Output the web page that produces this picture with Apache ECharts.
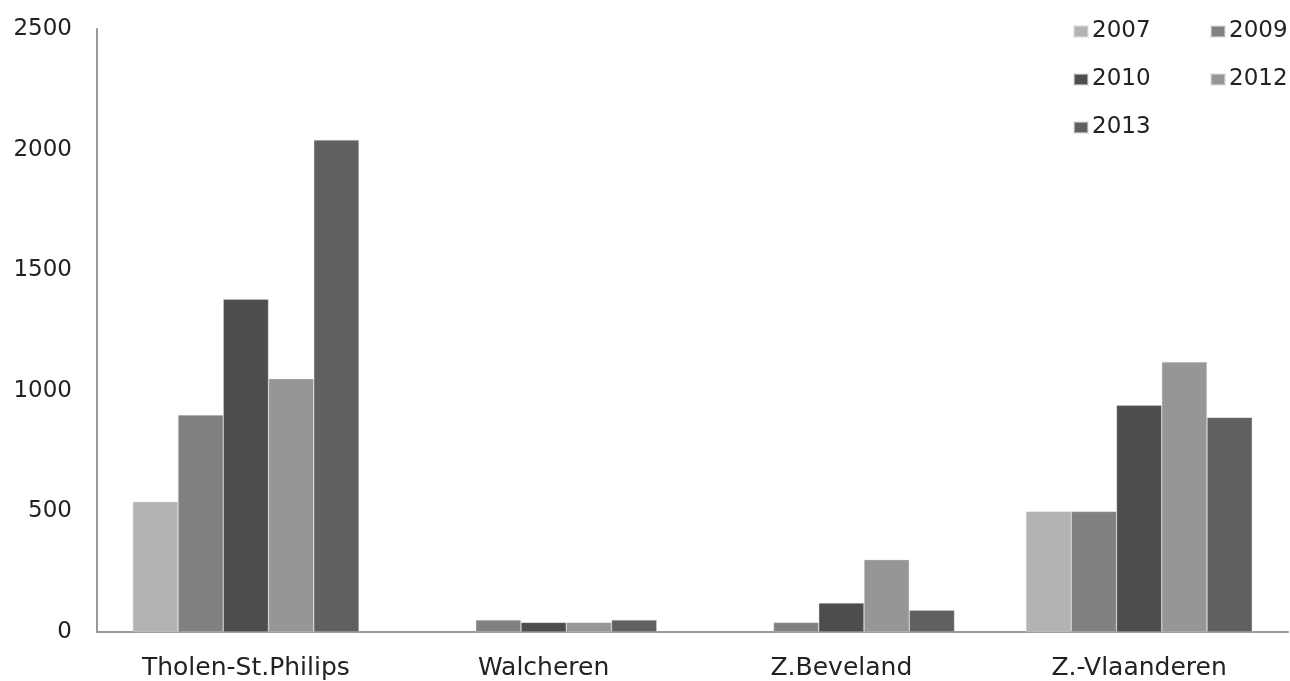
<!DOCTYPE html>
<html>
<head>
<meta charset="utf-8">
<script src="https://cdn.jsdelivr.net/npm/echarts@6/dist/echarts.min.js"></script>
<style>
html,body{margin:0;padding:0;background:#fff;}
#chart{width:1290px;height:681px;}
</style>
</head>
<body>
<div id="chart"></div>
<script>
var categories = ['Tholen-St.Philips', 'Walcheren', 'Z.Beveland', 'Z.-Vlaanderen'];
var years = ['2007', '2009', '2010', '2012', '2013'];
var v2007 = [540, null, null, 500];
var v2009 = [900, 50, 40, 500];
var v2010 = [1380, 40, 120, 940];
var v2012 = [1050, 40, 300, 1120];
var v2013 = [2040, 50, 90, 890];
var yTicks = [0, 500, 1000, 1500, 2000, 2500];
var colors = ['#b3b3b3', '#808180', '#4d4d4d', '#969696', '#606060'];

var seriesData = [v2007, v2009, v2010, v2012, v2013];
var font = 'DejaVu Sans';
// legend grid: [column, row] for each year
var legendCells = [[0, 0], [1, 0], [0, 1], [1, 1], [0, 2]];

var chart = echarts.init(document.getElementById('chart'));
var legends = years.map(function (y, i) {
  return {
    data: [y],
    orient: 'horizontal',
    itemWidth: 14,
    itemHeight: 11,
    itemGap: 6,
    icon: 'rect',
    padding: 0,
    textStyle: {fontFamily: font, fontSize: 23, color: '#222', padding: [0, 0, 0, -1]},
    left: 1073 + legendCells[i][0] * 137,
    top: 20 + legendCells[i][1] * 48,
    selectedMode: false
  };
});

chart.setOption({
  animation: false,
  color: colors,
  grid: {left: 97, right: 2, top: 29, bottom: 49, containLabel: false},
  legend: legends,
  xAxis: {
    type: 'category',
    data: categories,
    axisLine: {lineStyle: {color: '#9a9a9a', width: 2}},
    axisTick: {show: false},
    axisLabel: {fontFamily: font, fontSize: 25, color: '#222', margin: 24}
  },
  yAxis: {
    type: 'value',
    min: yTicks[0],
    max: yTicks[yTicks.length - 1],
    interval: 500,
    axisLine: {show: true, lineStyle: {color: '#9a9a9a', width: 2}},
    axisTick: {show: false},
    splitLine: {show: false},
    axisLabel: {fontFamily: font, fontSize: 23, color: '#222', margin: 25,
      formatter: function (v) { return String(v); }}
  },
  series: years.map(function (y, i) {
    return {
      name: y,
      type: 'bar',
      data: seriesData[i],
      barGap: '0%',
      barCategoryGap: '24%',
      itemStyle: {color: colors[i], borderColor: 'rgba(220,220,220,0.6)', borderWidth: 0.6}
    };
  })
});
</script>
</body>
</html>
